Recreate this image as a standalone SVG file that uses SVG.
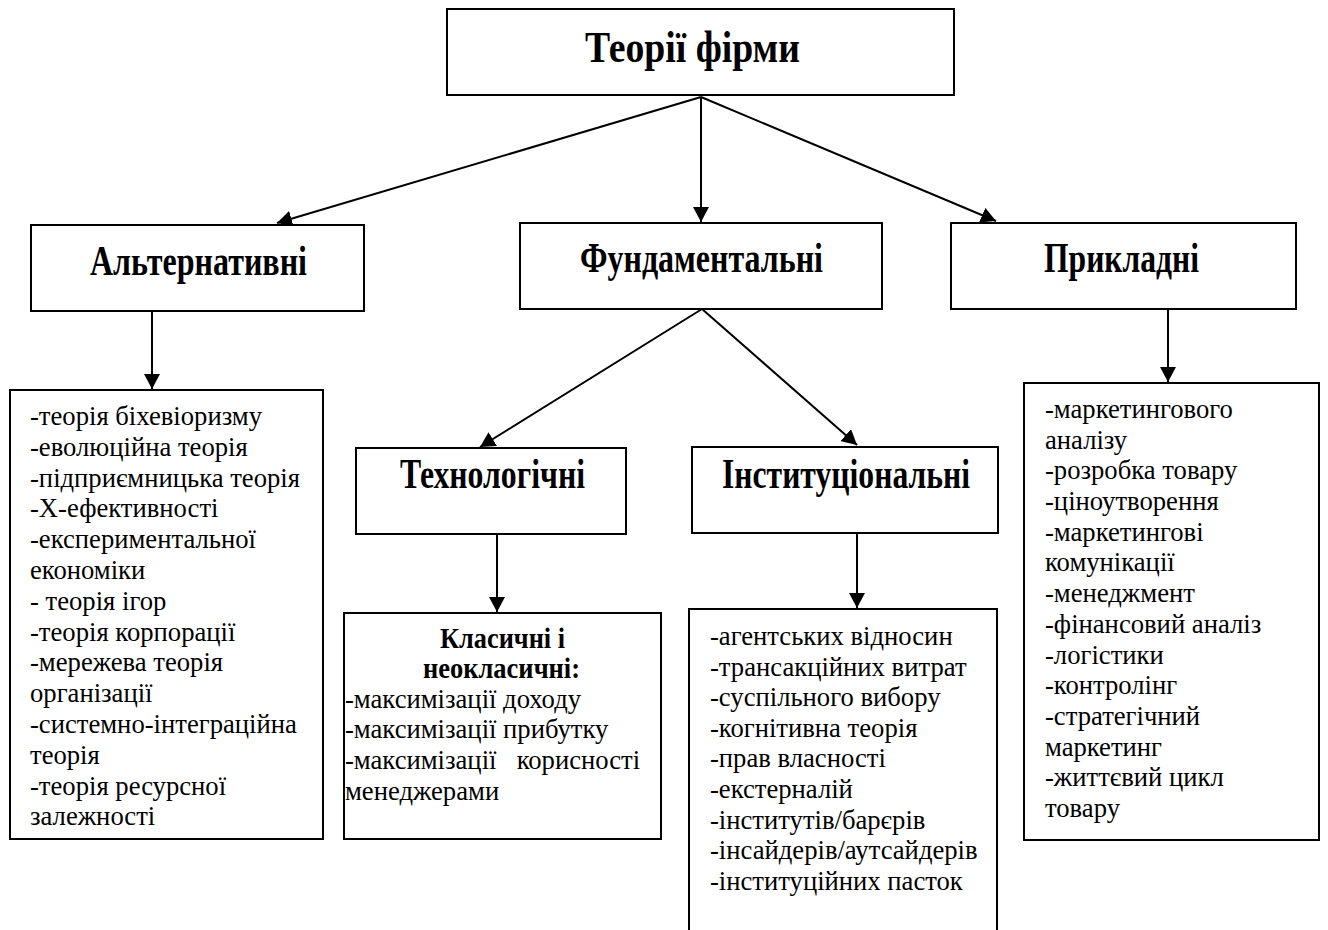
<svg xmlns="http://www.w3.org/2000/svg" width="1328" height="930" viewBox="0 0 1328 930">
<style>
.box{fill:#fff;stroke:#000;stroke-width:2}
.h{font-family:"Liberation Serif","Tinos","DejaVu Serif","Noto Serif",serif;font-weight:bold;fill:#000}
.t{font-family:"Liberation Serif","Tinos","DejaVu Serif","Noto Serif",serif;font-size:28px;fill:#000}
.c{stroke:#000;stroke-width:2;fill:none;marker-end:url(#ah)}
</style>
<defs>
<marker id="ah" markerUnits="userSpaceOnUse" markerWidth="15" markerHeight="16" refX="15" refY="8" orient="auto">
<path d="M0,0 L15,8 L0,16 z" fill="#000"/>
</marker>
</defs>
<rect width="1328" height="930" fill="#fff"/>

<g id="connectors">
<line class="c" x1="701" y1="97" x2="277" y2="223"/>
<line class="c" x1="701" y1="97" x2="701" y2="222"/>
<line class="c" x1="701" y1="97" x2="996" y2="221"/>
<line class="c" x1="152" y1="311" x2="152" y2="389"/>
<line class="c" x1="702" y1="309" x2="480" y2="447"/>
<line class="c" x1="702" y1="309" x2="857" y2="445"/>
<line class="c" x1="497" y1="534" x2="497" y2="612"/>
<line class="c" x1="857" y1="533" x2="857" y2="608"/>
<line class="c" x1="1168" y1="309" x2="1168" y2="382"/>
</g>

<g id="root">
<rect class="box" x="447" y="9" width="507" height="86"/>
<text class="h" x="585" y="62" font-size="45" textLength="215" lengthAdjust="spacingAndGlyphs">Теорії фірми</text>
</g>

<g id="alt">
<rect class="box" x="31" y="225" width="333" height="86"/>
<text class="h" x="90" y="275" font-size="42" textLength="217" lengthAdjust="spacingAndGlyphs">Альтернативні</text>
</g>

<g id="fund">
<rect class="box" x="520" y="223" width="362" height="86"/>
<text class="h" x="580" y="272" font-size="42" textLength="243" lengthAdjust="spacingAndGlyphs">Фундаментальні</text>
</g>

<g id="appl">
<rect class="box" x="951" y="223" width="345" height="86"/>
<text class="h" x="1044" y="272" font-size="42" textLength="155" lengthAdjust="spacingAndGlyphs">Прикладні</text>
</g>

<g id="tech">
<rect class="box" x="356" y="448" width="270" height="86"/>
<text class="h" x="400" y="488" font-size="42" textLength="185" lengthAdjust="spacingAndGlyphs">Технологічні</text>
</g>

<g id="inst">
<rect class="box" x="692" y="447" width="306" height="86"/>
<text class="h" x="722" y="488" font-size="42" textLength="248" lengthAdjust="spacingAndGlyphs">Інституціональні</text>
</g>

<g id="alt-list">
<rect class="box" x="10" y="390" width="313" height="449"/>
<g transform="translate(30,0) scale(0.952,1) translate(-30,0)">
<text class="t" x="30" y="425">-теорія біхевіоризму</text>
<text class="t" x="30" y="455.8">-еволюційна теорія</text>
<text class="t" x="30" y="486.6">-підприємницька теорія</text>
<text class="t" x="30" y="517.4">-Х-ефективності</text>
<text class="t" x="30" y="548.2">-експериментальної</text>
<text class="t" x="30" y="579">економіки</text>
<text class="t" x="30" y="609.8">- теорія ігор</text>
<text class="t" x="30" y="640.6">-теорія корпорації</text>
<text class="t" x="30" y="671.4">-мережева теорія</text>
<text class="t" x="30" y="702.2">організації</text>
<text class="t" x="30" y="733">-системно-інтеграційна</text>
<text class="t" x="30" y="763.8">теорія</text>
<text class="t" x="30" y="794.6">-теорія ресурсної</text>
<text class="t" x="30" y="825.4">залежності</text>
</g>
</g>

<g id="tech-list">
<rect class="box" x="344" y="613" width="317" height="226"/>
<text class="h" x="440" y="648" font-size="29" textLength="125" lengthAdjust="spacingAndGlyphs">Класичні і</text>
<text class="h" x="423" y="678" font-size="29" textLength="157" lengthAdjust="spacingAndGlyphs">неокласичні:</text>
<g transform="translate(345,0) scale(0.952,1) translate(-345,0)">
<text class="t" x="345" y="708">-максимізації доходу</text>
<text class="t" x="345" y="738">-максимізації прибутку</text>
<text class="t" x="345" y="769">-максимізації</text>
<text class="t" x="655" y="769" text-anchor="end">корисності</text>
<text class="t" x="345" y="800">менеджерами</text>
</g>
</g>

<g id="inst-list">
<path class="box" d="M689,935 L689,609 L997,609 L997,935"/>
<g transform="translate(710,0) scale(0.952,1) translate(-710,0)">
<text class="t" x="710" y="645">-агентських відносин</text>
<text class="t" x="710" y="675.6">-трансакційних витрат</text>
<text class="t" x="710" y="706.2">-суспільного вибору</text>
<text class="t" x="710" y="736.8">-когнітивна теорія</text>
<text class="t" x="710" y="767.4">-прав власності</text>
<text class="t" x="710" y="798">-екстерналій</text>
<text class="t" x="710" y="828.6">-інститутів/барєрів</text>
<text class="t" x="710" y="859.2">-інсайдерів/аутсайдерів</text>
<text class="t" x="710" y="889.8">-інституційних пасток</text>
</g>
</g>

<g id="appl-list">
<rect class="box" x="1024" y="383" width="295" height="457"/>
<g transform="translate(1045,0) scale(0.952,1) translate(-1045,0)">
<text class="t" x="1045" y="418">-маркетингового</text>
<text class="t" x="1045" y="448.7">аналізу</text>
<text class="t" x="1045" y="479.4">-розробка товару</text>
<text class="t" x="1045" y="510.1">-ціноутворення</text>
<text class="t" x="1045" y="540.8">-маркетингові</text>
<text class="t" x="1045" y="571.5">комунікації</text>
<text class="t" x="1045" y="602.2">-менеджмент</text>
<text class="t" x="1045" y="632.9">-фінансовий аналіз</text>
<text class="t" x="1045" y="663.6">-логістики</text>
<text class="t" x="1045" y="694.3">-контролінг</text>
<text class="t" x="1045" y="725">-стратегічний</text>
<text class="t" x="1045" y="755.7">маркетинг</text>
<text class="t" x="1045" y="786.4">-життєвий цикл</text>
<text class="t" x="1045" y="817.1">товару</text>
</g>
</g>
</svg>
